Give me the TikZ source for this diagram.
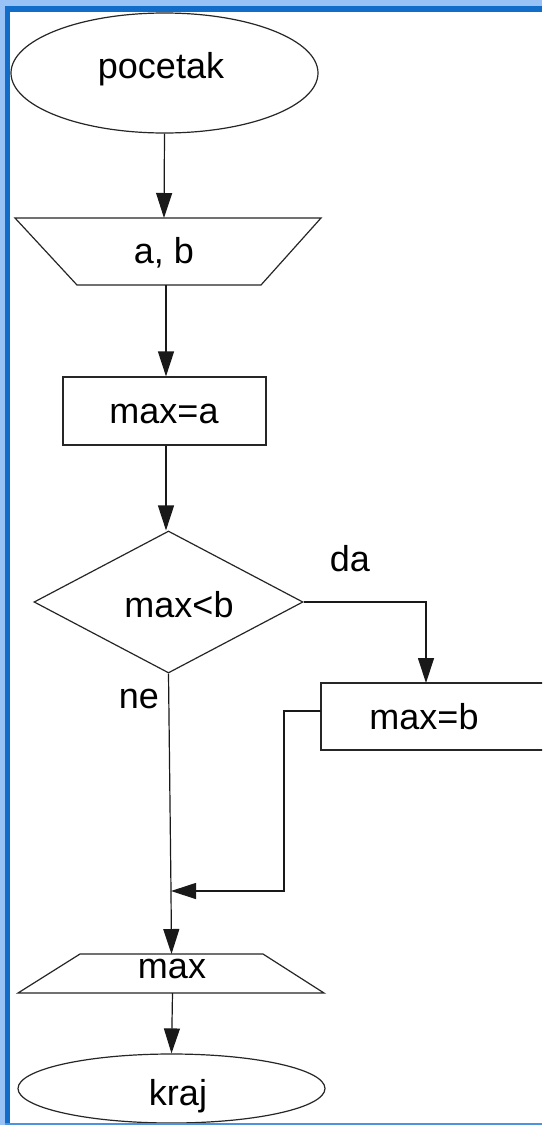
\documentclass[tikz,border=0pt]{standalone}
\usepackage{fontspec}
\setmainfont{Liberation Sans}
\usetikzlibrary{shapes.geometric,arrows.meta}
\definecolor{bordlight}{HTML}{99C3F7}
\definecolor{borddark}{HTML}{126DC8}
\definecolor{bordbot}{HTML}{4C94E0}
\begin{document}
\begin{tikzpicture}[x=1pt,y=-1pt,line width=1.2pt,
  shapebox/.style={draw=black!85,line width=1.2pt,inner sep=0pt},
  txt/.style={inner sep=0pt,anchor=base,font=\fontsize{36}{42}\selectfont},
  flow/.style={draw=black!90,line width=1.2pt,-{Triangle[length=25pt,width=16pt]}},
  plain/.style={draw=black!90,line width=1.2pt}]
\useasboundingbox (0,0) rectangle (542,1125);
\clip (0,0) rectangle (542,1125);
\fill[white] (0,0) rectangle (542,1125);

% shapes
\node[shapebox,ellipse,minimum width=307pt,minimum height=120pt] (start) at (164.5,73) {};
\draw[shapebox] (15,218) -- (321,218) -- (261,285) -- (77,285) -- cycle;
\coordinate (abTop) at (164,218);
\coordinate (abBot) at (166,285);
\node[shapebox,rectangle,minimum width=203pt,minimum height=68pt] (maxa) at (164.5,411) {};
\node[shapebox,diamond,minimum width=269pt,minimum height=142pt] (dec) at (168.5,602) {};
\node[shapebox,rectangle,minimum width=239pt,minimum height=67pt] (maxb) at (440.5,716.5) {};
\coordinate (bIn) at (426,683);
\coordinate (bOut) at (321,711);
\coordinate (join) at (171,891);
\draw[shapebox] (80,954) -- (263,954) -- (324,993) -- (18,993) -- cycle;
\coordinate (outTop) at (171.5,954);
\coordinate (outBot) at (172.5,993);
\node[shapebox,ellipse,minimum width=307pt,minimum height=69pt] (kraj) at (171.5,1088.5) {};

% texts
\node[txt] (t1) at (161,78) {pocetak};
\node[txt] (t2) at (164,263) {a, b};
\node[txt] (t3) at (164,423) {max=a};
\node[txt] (t4) at (179,617) {max<b};
\node[txt] (t5) at (350,571) {da};
\node[txt] (t6) at (139,708) {ne};
\node[txt] (t7) at (424,729) {max=b};
\node[txt] (t8) at (172,978) {max};
\node[txt] (t9) at (178,1105) {kraj};

% connectors
\draw[flow] (start.south) -- (abTop);
\draw[flow] (abBot) -- (abBot |- maxa.north);
\draw[flow] (abBot |- maxa.south) -- (abBot |- dec.north);
\draw[flow] (dec.east) -| (bIn);
\draw[plain] (dec.south) -- (join);
\draw[flow] (join) -- (outTop);
\draw[flow] (bOut) -- ++(-37,0) |- (join);
\draw[flow] (outBot) -- (kraj.north);

% window border
\fill[bordlight] (0,0) rectangle (542,6);
\fill[borddark] (0,6) rectangle (542,12);
\fill[bordlight] (0,0) rectangle (5,1125);
\fill[borddark] (5,6) rectangle (10,1125);
\fill[bordbot] (5,1123) rectangle (542,1125);
\end{tikzpicture}
\end{document}
